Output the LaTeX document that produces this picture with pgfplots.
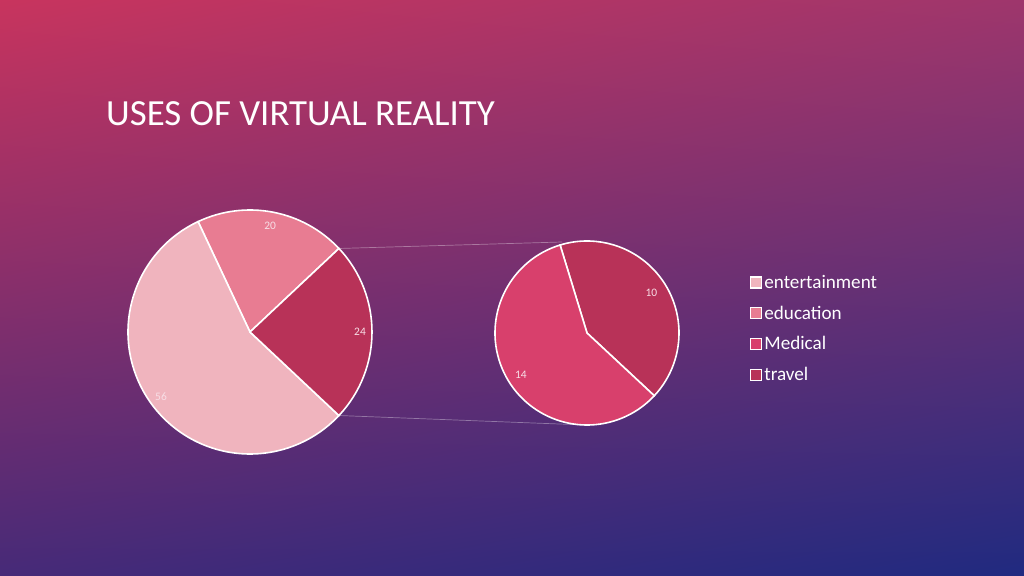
\documentclass[border=0pt]{standalone}
\usepackage{pgfplots}
\pgfplotsset{compat=1.18}
\usetikzlibrary{shadings}
\usepackage{fontspec}
\setmainfont{Carlito}
\definecolor{cEnt}{RGB}{240,180,190}
\definecolor{cEdu}{RGB}{232,124,146}
\definecolor{cMed}{RGB}{216,64,108}
\definecolor{cTra}{RGB}{184,50,88}
\definecolor{bgUL}{RGB}{200,52,94}
\definecolor{bgUR}{RGB}{158,54,108}
\definecolor{bgLL}{RGB}{70,42,120}
\definecolor{bgLR}{RGB}{32,42,128}
\definecolor{lbl}{RGB}{248,222,230}
% data
\def\vEnt{56}\def\vEdu{20}\def\vMed{14}\def\vTra{10}
\begin{document}
\begin{tikzpicture}
\begin{axis}[x=1bp,y=1bp,xmin=0,xmax=1024,ymin=0,ymax=576,
  hide axis, scale only axis, clip=false,
  legend style={at={(axis cs:750,303)},anchor=north west,draw=none,fill=none,
    font=\fontsize{19.2}{23}\selectfont, text=white, row sep=12bp,
    legend cell align=left, inner sep=0pt,
    /tikz/every even column/.append style={column sep=4bp}},
  legend image code/.code={\draw[#1,draw=white,line width=1.2bp] (0bp,-5.5bp) rectangle (11bp,5.5bp);}]
\shade[upper left=bgUL,upper right=bgUR,lower left=bgLL,lower right=bgLR]
  (axis cs:0,0) rectangle (axis cs:1024,576);
\addlegendimage{fill=cEnt}\addlegendentry{entertainment}
\addlegendimage{fill=cEdu}\addlegendentry{education}
\addlegendimage{fill=cMed}\addlegendentry{Medical}
\addlegendimage{fill=cTra}\addlegendentry{travel}
\pgfmathsetmacro{\tot}{\vEnt+\vEdu+\vMed+\vTra}
\pgfmathsetmacro{\aOth}{(\vMed+\vTra)/\tot*360}
\pgfmathsetmacro{\aA}{\aOth/2}
\pgfmathsetmacro{\aB}{\aA+\vEdu/\tot*360}
\pgfmathsetmacro{\aC}{\aB+\vEnt/\tot*360}
\pgfmathsetmacro{\aD}{\aC+\aOth}
% left pie centre (250,244) r 122
\def\R{122}
\filldraw[fill=cEdu,draw=white,line width=1.6bp] (axis cs:250,244) -- (axis cs:{250+\R*cos(\aA)},{244+\R*sin(\aA)}) arc[start angle=\aA,end angle=\aB,radius=\R bp] -- cycle;
\filldraw[fill=cEnt,draw=white,line width=1.6bp] (axis cs:250,244) -- (axis cs:{250+\R*cos(\aB)},{244+\R*sin(\aB)}) arc[start angle=\aB,end angle=\aC,radius=\R bp] -- cycle;
\filldraw[fill=cTra,draw=white,line width=1.6bp] (axis cs:250,244) -- (axis cs:{250+\R*cos(\aC)},{244+\R*sin(\aC)}) arc[start angle=\aC,end angle=\aD,radius=\R bp] -- cycle;
% right pie centre (587,243) r 92
\def\r{92}
\pgfmathsetmacro{\bA}{-43}
\pgfmathsetmacro{\bB}{\bA+\vTra/(\vMed+\vTra)*360}
\pgfmathsetmacro{\bC}{\bB+\vMed/(\vMed+\vTra)*360}
\filldraw[fill=cTra,draw=white,line width=1.6bp] (axis cs:587,243) -- (axis cs:{587+\r*cos(\bA)},{243+\r*sin(\bA)}) arc[start angle=\bA,end angle=\bB,radius=\r bp] -- cycle;
\filldraw[fill=cMed,draw=white,line width=1.6bp] (axis cs:587,243) -- (axis cs:{587+\r*cos(\bB)},{243+\r*sin(\bB)}) arc[start angle=\bB,end angle=\bC,radius=\r bp] -- cycle;
% connectors
\draw[white,opacity=0.35,line width=0.7bp] (axis cs:{250+\R*cos(\aA)},{244+\R*sin(\aA)}) -- (axis cs:562,334);
\draw[white,opacity=0.35,line width=0.7bp] (axis cs:{250+\R*cos(\aC)},{244+\R*sin(\aC)}) -- (axis cs:585,151);
% labels
\begin{scope}[every node/.style={text=lbl,font=\fontsize{11.5}{13}\selectfont}]
\node at (axis cs:{250+108*cos((\aA+\aB)/2)},{244+108*sin((\aA+\aB)/2)}) {\vEdu};
\node at (axis cs:{250+110*cos((\aB+\aC)/2)},{244+110*sin((\aB+\aC)/2)}) {\vEnt};
\node at (axis cs:{250+110*cos((\aC+\aD)/2)},{244+110*sin((\aC+\aD)/2)}) {24};
\node at (axis cs:{587+76*cos((\bA+\bB)/2)},{243+76*sin((\bA+\bB)/2)}) {\vTra};
\node at (axis cs:{587+78*cos((\bB+\bC)/2)},{243+78*sin((\bB+\bC)/2)}) {\vMed};
\end{scope}
\node[anchor=base west,text=white,font=\fontsize{37}{44}\selectfont,inner sep=0pt] at (axis cs:106,450) {USES OF VIRTUAL REALITY};
\end{axis}
\end{tikzpicture}
\end{document}
